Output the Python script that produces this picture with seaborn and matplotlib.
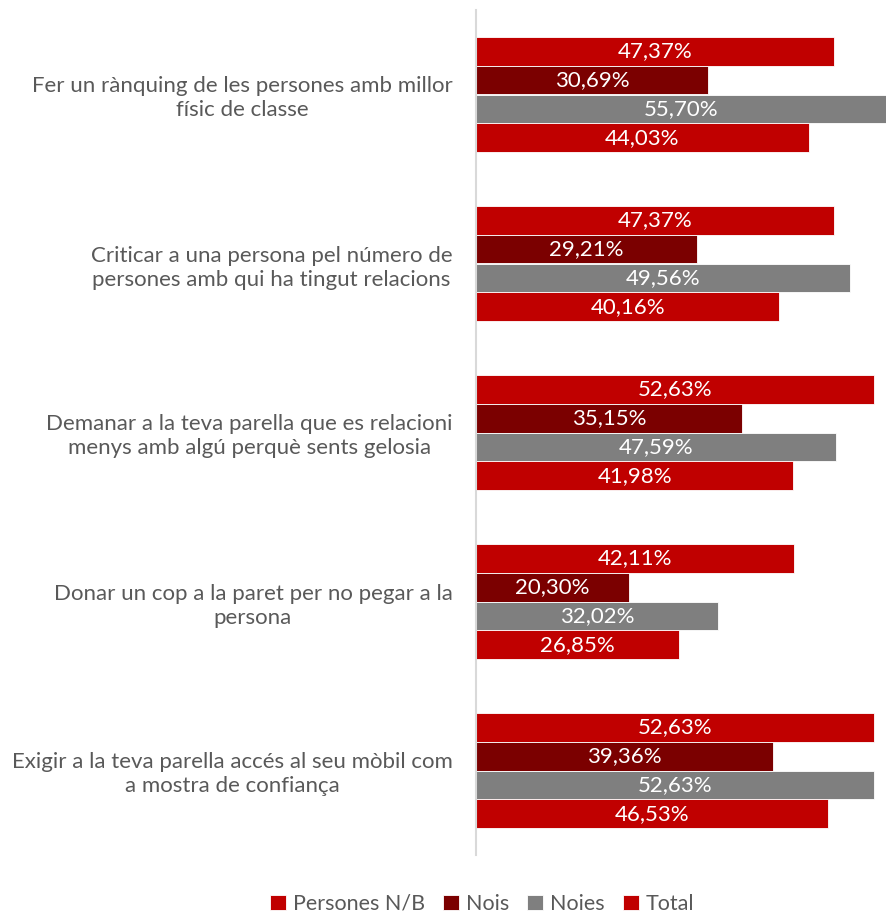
import pandas as pd
import numpy as np
import matplotlib
matplotlib.use("Agg")
import matplotlib.pyplot as plt
import seaborn as sns

# categories (top to bottom)
categories = [
    "Fer un rànquing de les persones amb millor\nfísic de classe",
    "Criticar a una persona pel número de\npersones amb qui ha tingut relacions",
    "Demanar a la teva parella que es relacioni\nmenys amb algú perquè sents gelosia",
    "Donar un cop a la paret per no pegar a la\npersona",
    "Exigir a la teva parella accés al seu mòbil com\na mostra de confiança",
]
series = ["Persones N/B", "Nois", "Noies", "Total"]
nb_vals = [47.37, 47.37, 52.63, 42.11, 52.63]
nois_vals = [30.69, 29.21, 35.15, 20.30, 39.36]
noies_vals = [55.70, 49.56, 47.59, 32.02, 52.63]
total_vals = [44.03, 40.16, 41.98, 26.85, 46.53]
colors = ["#C00000", "#7B0000", "#7F7F7F", "#C00000"]

rows = []
for s, vals in zip(series, [nb_vals, nois_vals, noies_vals, total_vals]):
    for c, v in zip(categories, vals):
        rows.append({"cat": c, "serie": s, "val": v})
df = pd.DataFrame(rows)

sns.set_style("white")
plt.rcParams["font.family"] = ["Lato", "DejaVu Sans"]

fig = plt.figure(figsize=(8.87, 9.15), dpi=100)
ax = fig.add_axes([476 / 887, 1 - 855 / 915, 1 - 476 / 887, 845 / 915])

xmax = 54.4
sns.barplot(data=df, x="val", y="cat", hue="serie", order=categories,
            hue_order=series, palette=colors, saturation=1, orient="h",
            width=0.686, edgecolor="white", linewidth=0.6, ax=ax, legend=True)

ax.set_xlim(0, xmax)
ax.set_ylim(4.5, -0.5)
ax.set_xlabel("")
ax.set_ylabel("")
ax.set_xticks([])
for side in ["top", "right", "bottom"]:
    ax.spines[side].set_visible(False)
ax.spines["left"].set_color("#D9D9D9")
ax.spines["left"].set_linewidth(1.5)
ax.tick_params(axis="y", length=0, pad=17)
for lbl in ax.get_yticklabels():
    lbl.set_multialignment("center")
    lbl.set_fontsize(16)
    lbl.set_linespacing(1.25)
    lbl.set_color("#595959")

# value labels
for cont in ax.containers:
    for bar in cont:
        w = bar.get_width()
        y = bar.get_y() + bar.get_height() / 2
        ax.text(min(w, xmax) / 2, y, f"{w:.2f}%".replace(".", ","),
                ha="center", va="center", color="white", fontsize=16)

leg = ax.legend(loc="center", ncol=4, frameon=False,
                fontsize=15.5, handlelength=0.75, handleheight=0.75,
                handletextpad=0.3, columnspacing=0.85, borderpad=0.2)
leg.set_bbox_to_anchor((482 / 887, 1 - 904 / 915), transform=fig.transFigure)
for t in leg.get_texts():
    t.set_color("#595959")

fig.savefig("out.png", dpi=100)
